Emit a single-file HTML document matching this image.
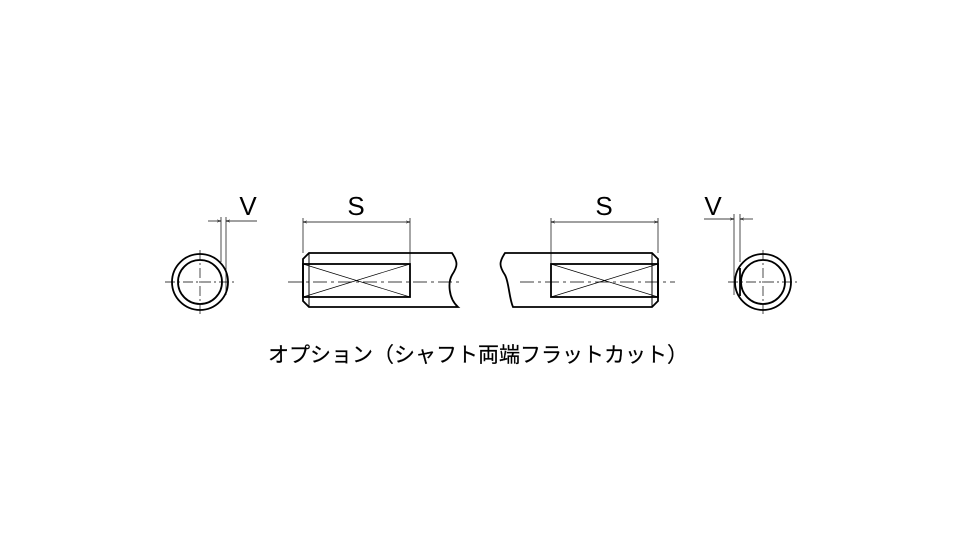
<!DOCTYPE html>
<html><head><meta charset="utf-8"><style>
html,body{margin:0;padding:0;background:#fff;width:960px;height:560px;overflow:hidden}
</style></head><body>
<svg width="960" height="560" viewBox="0 0 960 560" xmlns="http://www.w3.org/2000/svg">
<defs><marker id="a" viewBox="0 0 10 10" refX="10" refY="5" markerWidth="6" markerHeight="6" orient="auto-start-reverse"><path d="M0,2 L10,5 L0,8" fill="none" stroke="#000"/></marker></defs>
<g fill="none" stroke="#000">
<!-- left circle -->
<circle cx="200" cy="282" r="28" stroke-width="1.8"/>
<circle cx="200" cy="282" r="22" stroke-width="1.8"/>
<line x1="165" y1="282" x2="235" y2="282" stroke-width="0.7" stroke-dasharray="10,3,2,3"/>
<line x1="200" y1="250" x2="200" y2="316" stroke-width="0.7" stroke-dasharray="10,3,2,3"/>
<line x1="221" y1="217" x2="221" y2="262" stroke-width="0.7"/>
<line x1="226" y1="217" x2="226" y2="295" stroke-width="0.7"/>
<line x1="208" y1="221" x2="221" y2="221" stroke-width="0.7" marker-end="url(#a)"/>
<line x1="257" y1="221" x2="226" y2="221" stroke-width="0.7" marker-end="url(#a)"/>
<!-- left shaft -->
<path d="M309,253 L452,253 C458,262 458,266 452,275 C448,282 448,298 458,307 L309,307 L303,301 L303,259 Z" stroke-width="1.8"/>
<line x1="309" y1="253" x2="309" y2="307" stroke-width="1"/>
<rect x="303" y="264" width="107" height="33" stroke-width="1.8"/>
<line x1="303" y1="264" x2="410" y2="297" stroke-width="0.7"/>
<line x1="303" y1="297" x2="410" y2="264" stroke-width="0.7"/>
<line x1="288" y1="282" x2="462" y2="282" stroke-width="0.7" stroke-dasharray="14,4,3,4"/>
<line x1="303" y1="218" x2="303" y2="253" stroke-width="0.7"/>
<line x1="410" y1="218" x2="410" y2="264" stroke-width="0.7"/>
<line x1="303" y1="222" x2="410" y2="222" stroke-width="0.7" marker-start="url(#a)" marker-end="url(#a)"/>
<!-- right shaft -->
<path d="M652,253 L505,253 C499,262 499,266 505,275 C509,282 509,298 513,307 L652,307 L658,301 L658,259 Z" stroke-width="1.8"/>
<line x1="652" y1="253" x2="652" y2="307" stroke-width="1"/>
<rect x="551" y="264" width="107" height="33" stroke-width="1.8"/>
<line x1="551" y1="264" x2="658" y2="297" stroke-width="0.7"/>
<line x1="551" y1="297" x2="658" y2="264" stroke-width="0.7"/>
<line x1="520" y1="282" x2="675" y2="282" stroke-width="0.7" stroke-dasharray="14,4,3,4"/>
<line x1="551" y1="218" x2="551" y2="264" stroke-width="0.7"/>
<line x1="658" y1="218" x2="658" y2="253" stroke-width="0.7"/>
<line x1="551" y1="222" x2="658" y2="222" stroke-width="0.7" marker-start="url(#a)" marker-end="url(#a)"/>
<!-- right circle -->
<circle cx="763" cy="282" r="28" stroke-width="1.8"/>
<circle cx="763" cy="282" r="22" stroke-width="1.8"/>
<line x1="740" y1="268" x2="740" y2="296" stroke-width="1.8"/>
<line x1="728" y1="282" x2="798" y2="282" stroke-width="0.7" stroke-dasharray="10,3,2,3"/>
<line x1="763" y1="250" x2="763" y2="316" stroke-width="0.7" stroke-dasharray="10,3,2,3"/>
<line x1="734" y1="214" x2="734" y2="295" stroke-width="0.7"/>
<line x1="740" y1="214" x2="740" y2="262" stroke-width="0.7"/>
<line x1="704" y1="219" x2="734" y2="219" stroke-width="0.7" marker-end="url(#a)"/>
<line x1="753" y1="219" x2="740" y2="219" stroke-width="0.7" marker-end="url(#a)"/>
</g>
<g font-family="Liberation Sans, sans-serif" font-size="26" text-anchor="middle" fill="#000">
<text x="248" y="215">V</text>
<text x="356" y="215">S</text>
<text x="604" y="215">S</text>
<text x="713" y="215">V</text>
</g>
<text x="478" y="362" font-family="'Liberation Sans','Noto Sans CJK JP',sans-serif" font-size="21" text-anchor="middle" fill="#000" stroke="#000" stroke-width="0.2">オプション（シャフト両端フラットカット）</text>
</svg>
</body></html>
